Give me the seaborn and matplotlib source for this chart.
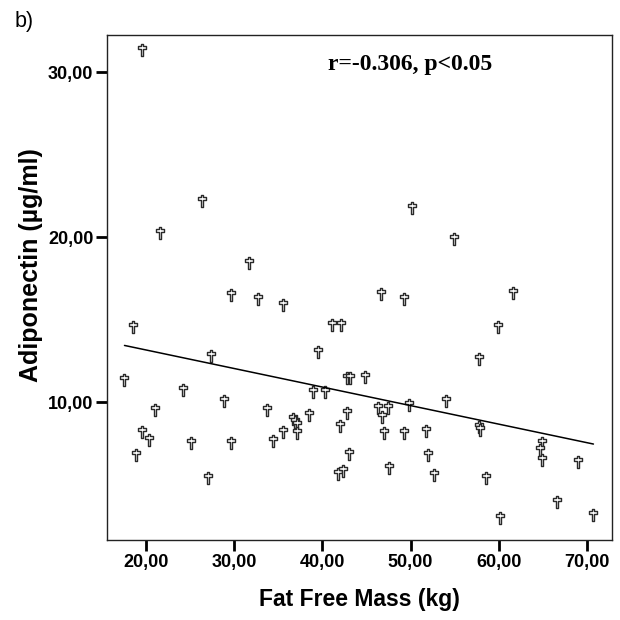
import numpy as np
import pandas as pd
import matplotlib
matplotlib.use("Agg")
import matplotlib.pyplot as plt
from matplotlib.path import Path
from matplotlib.ticker import FuncFormatter
import seaborn as sns

# values
fat_free_mass = [19.6, 26.4, 21.6, 31.7, 50.2, 54.9,
                 29.7, 32.75, 35.5, 18.6, 41.1, 42.1, 39.5, 27.4, 17.6,
                 42.8, 43.1, 24.2, 38.9, 40.3, 28.9, 21.0, 33.7, 42.8,
                 36.7, 36.9, 37.1, 38.5, 42.0, 19.55, 20.4, 35.5, 37.1,
                 34.45, 25.1, 29.7, 43.05, 18.9, 27.1, 41.8, 42.3,
                 46.6, 49.2, 61.6, 59.9, 57.75, 44.8, 54.0, 49.8, 46.3,
                 47.4, 46.8, 47.0, 49.2, 51.7, 52.0, 57.7, 57.9, 64.9,
                 64.65, 64.9, 69.0, 47.6, 52.6, 58.5, 66.6, 60.1, 70.7]
adiponectin = [31.35, 22.19, 20.28, 18.46, 21.78, 19.92,
               16.48, 16.24, 15.93, 14.55, 14.66, 14.66, 13.08, 12.84, 11.36,
               11.5, 11.5, 10.75, 10.6, 10.6, 10.1, 9.54, 9.54, 9.33,
               8.99, 8.8, 8.6, 9.23, 8.59, 8.22, 7.72, 8.18, 8.12,
               7.63, 7.51, 7.51, 6.9, 6.81, 5.39, 5.65, 5.85,
               16.54, 16.28, 16.64, 14.55, 12.63, 11.56, 10.06, 9.84, 9.64,
               9.64, 9.13, 8.14, 8.14, 8.28, 6.81, 8.5, 8.35, 7.53,
               7.13, 6.52, 6.36, 6.02, 5.61, 5.39, 3.99, 3.02, 3.16]

x_ticks = [20, 30, 40, 50, 60, 70]
y_ticks = [10, 20, 30]
annotation = "r=-0.306, p<0.05"

df = pd.DataFrame({"ffm": fat_free_mass, "adipo": adiponectin})

sns.set_style("white")
plt.rcParams["font.family"] = ["Liberation Sans", "DejaVu Sans"]
plt.rcParams["text.color"] = "black"
plt.rcParams["axes.labelcolor"] = "black"
plt.rcParams["xtick.color"] = "black"
plt.rcParams["ytick.color"] = "black"

# SPSS style hollow latin cross marker
cross = Path([(-0.13, 0.62), (0.13, 0.62), (0.13, 0.38), (0.42, 0.38),
              (0.42, 0.12), (0.13, 0.12), (0.13, -0.62), (-0.13, -0.62),
              (-0.13, 0.12), (-0.42, 0.12), (-0.42, 0.38), (-0.13, 0.38),
              (-0.13, 0.62)], closed=True)

fig = plt.figure(figsize=(6.2, 6.2), dpi=100)
ax = fig.add_axes([0.173, 0.129, 0.8135, 0.8145])

sns.regplot(data=df, x="ffm", y="adipo", ax=ax, ci=None, marker=cross,
            scatter_kws={"s": 68, "facecolor": "white", "edgecolor": "#2a2a2a",
                         "linewidths": 1.0, "alpha": 1},
            line_kws={"color": "black", "linewidth": 1.1})

ax.set_xlim(15.65, 72.76)
ax.set_ylim(1.66, 32.26)
ax.set_xticks(x_ticks)
ax.set_yticks(y_ticks)
fmt = FuncFormatter(lambda v, p: f"{v:.2f}".replace(".", ","))
ax.xaxis.set_major_formatter(fmt)
ax.yaxis.set_major_formatter(fmt)
ax.tick_params(axis="both", direction="out", length=8, width=2, color="black",
               labelcolor="black", labelsize=13, pad=2, bottom=True, left=True)
for lab in ax.get_xticklabels() + ax.get_yticklabels():
    lab.set_fontweight("bold")

for sp in ax.spines.values():
    sp.set_color("#222222")
    sp.set_linewidth(1.0)

ax.set_xlabel("Fat Free Mass (kg)", fontsize=16.5, fontweight="bold", labelpad=12)
ax.set_ylabel("Adiponectin (µg/ml)", fontsize=18, fontweight="bold")
ax.yaxis.set_label_coords(-0.128, 0.545)

ax.text(0.6, 0.941, annotation, transform=ax.transAxes, ha="center", va="center",
        fontsize=17, fontweight="bold", family=["Liberation Serif", "DejaVu Serif"])

fig.text(0.024, 0.965, "b)", fontsize=15.5, ha="left", va="center")

fig.savefig("out.png", dpi=100)
